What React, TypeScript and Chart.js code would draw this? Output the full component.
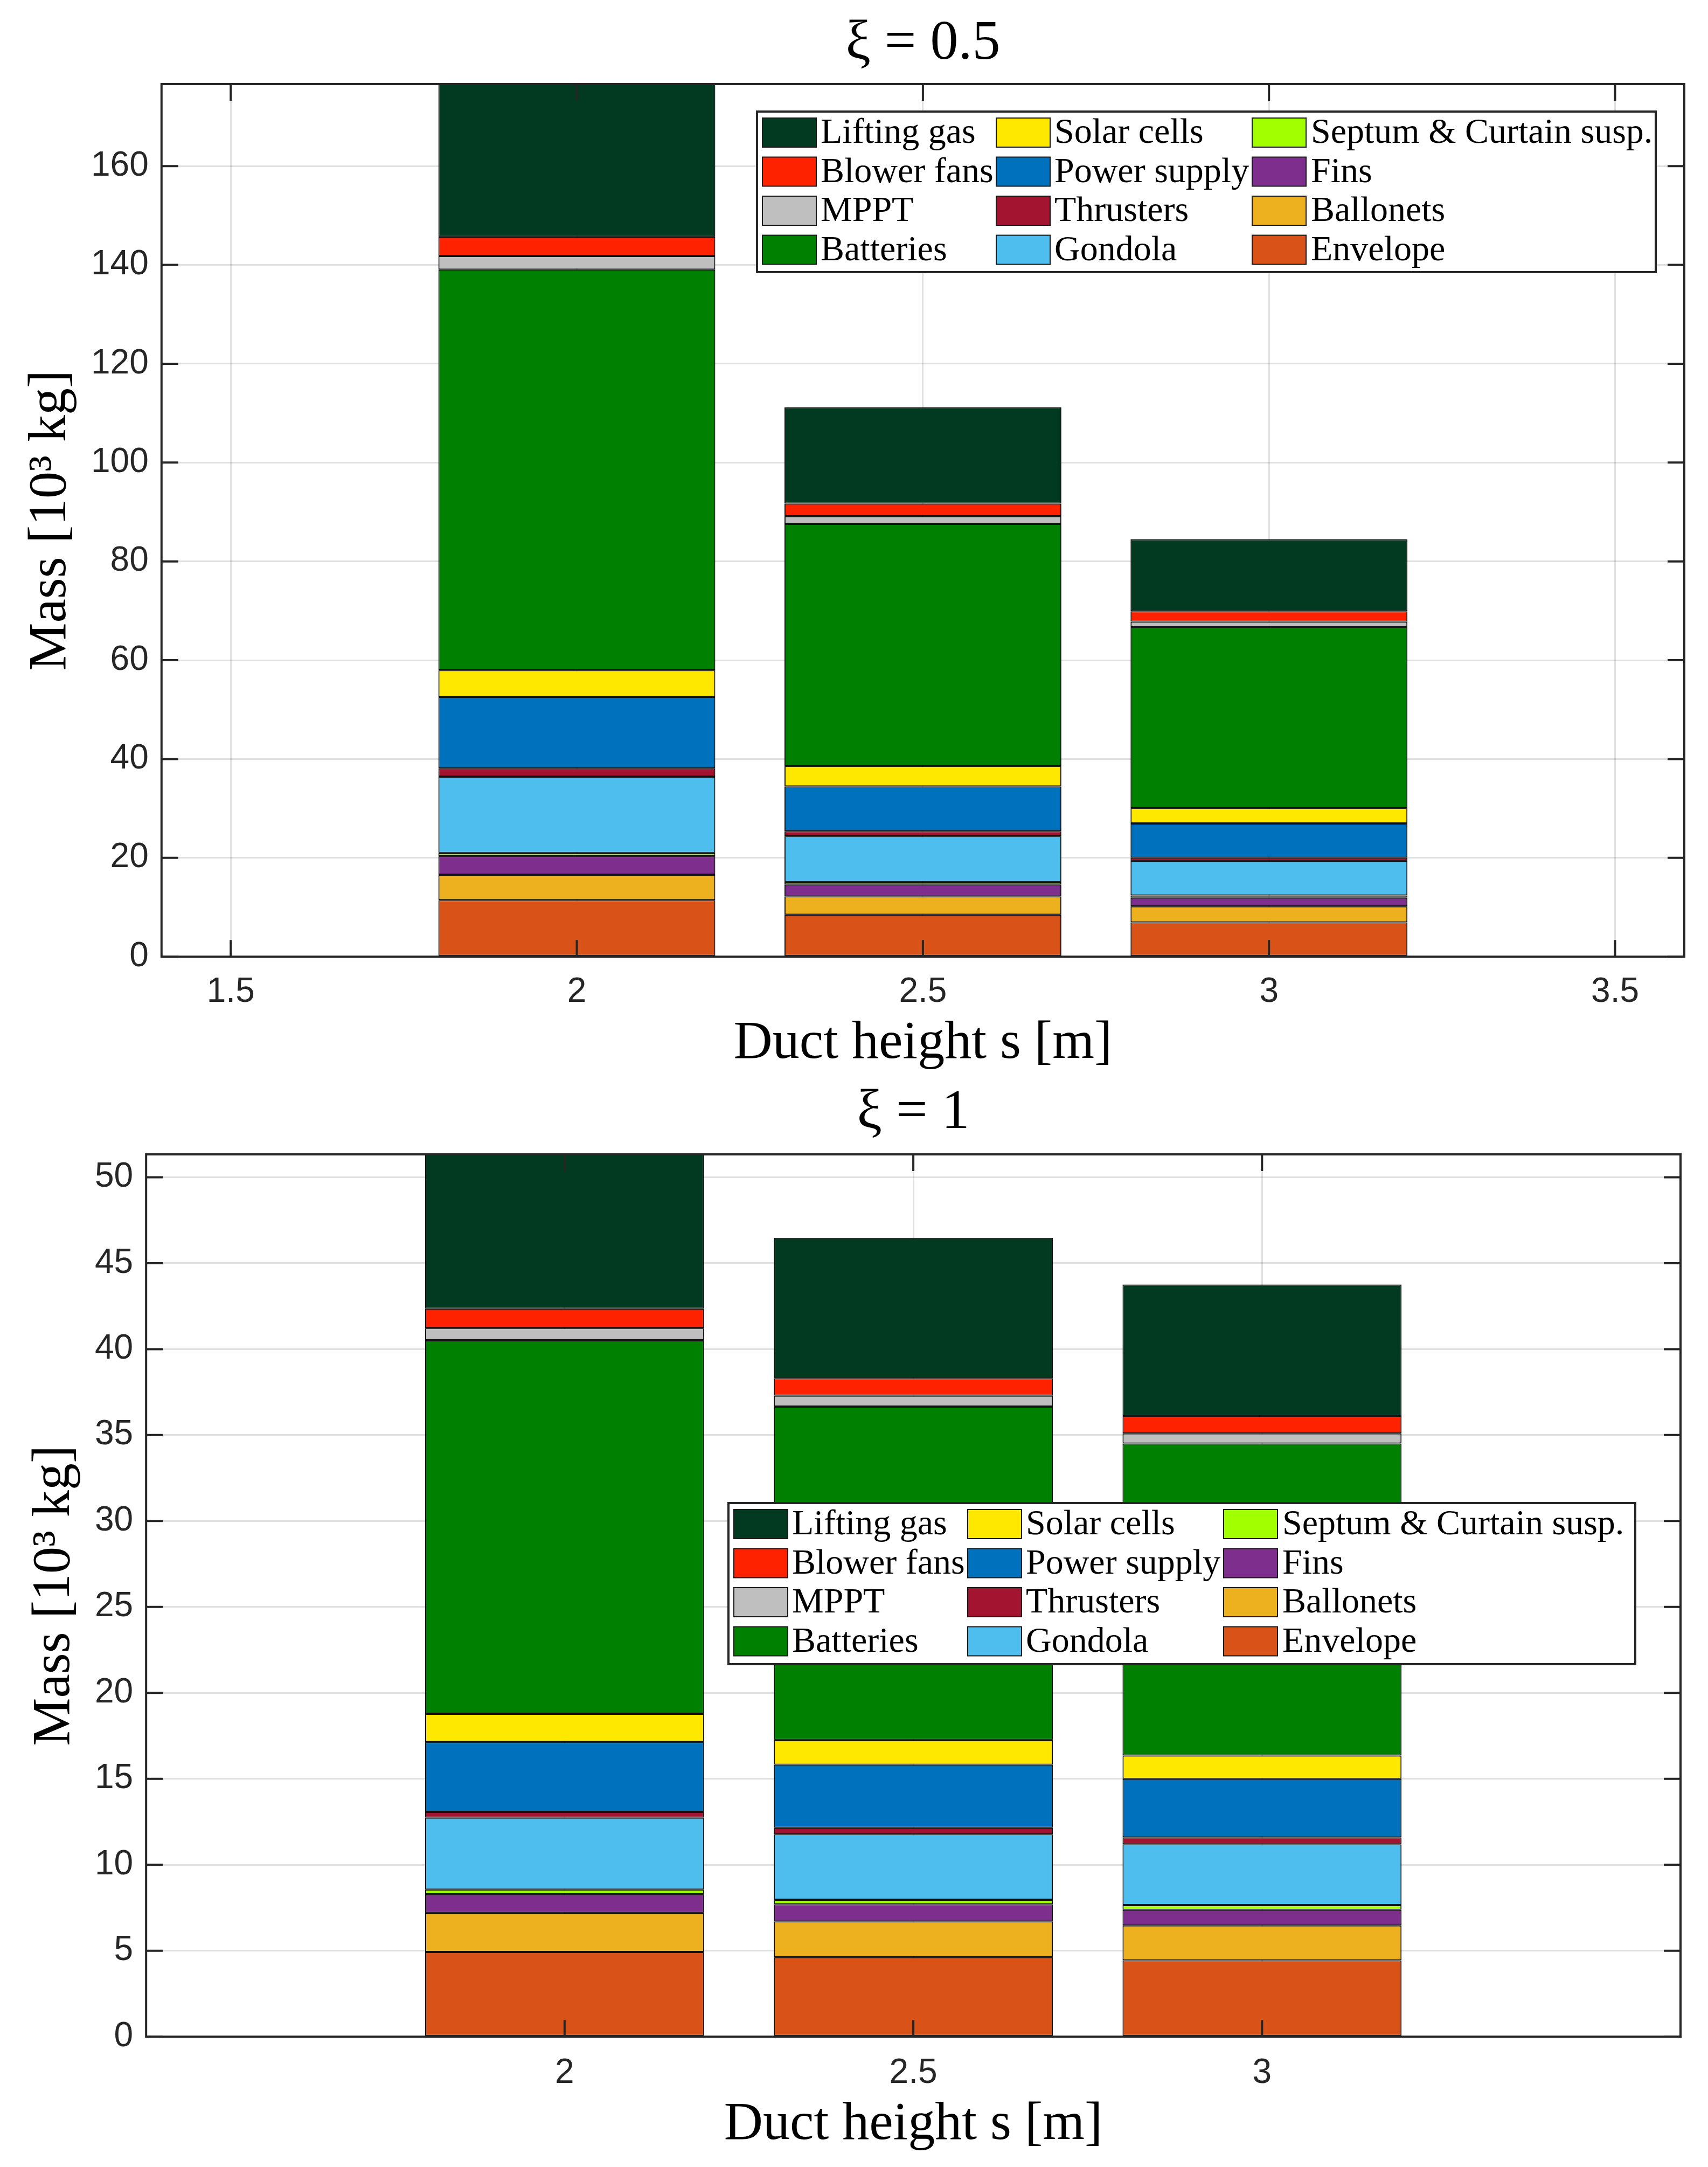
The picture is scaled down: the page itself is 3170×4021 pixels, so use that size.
import React, { useEffect, useRef } from 'react';
import { Chart, registerables } from 'chart.js';

Chart.register(...registerables);

// ---------- data ----------
const ductHeights = [2, 2.5, 3];
const xTicksTop = [1.5, 2, 2.5, 3, 3.5];
const xTicksBottom = [2, 2.5, 3];
const yTicksTop = [0, 20, 40, 60, 80, 100, 120, 140, 160];
const yTicksBottom = [0, 5, 10, 15, 20, 25, 30, 35, 40, 45, 50];
const xRange = [1.4, 3.6];
const yMaxTop = 176.6;
const yMaxBottom = 51.33;

// stacking order, bottom to top
const componentNames = [
  'Envelope',
  'Ballonets',
  'Fins',
  'Septum & Curtain susp.',
  'Gondola',
  'Thrusters',
  'Power supply',
  'Solar cells',
  'Batteries',
  'MPPT',
  'Blower fans',
  'Lifting gas',
];
const componentColors = [
  '#D95319',
  '#EDB120',
  '#7E2F8E',
  '#A2FF00',
  '#4DBEEE',
  '#A2142F',
  '#0072BD',
  '#FFE800',
  '#008000',
  '#BFBFBF',
  '#FF2200',
  '#013A20',
];

// xi = 0.5  (10^3 kg) at s = 2, 2.5, 3
const envelopeXi05 = [11.45, 8.5, 6.95];
const ballonetsXi05 = [5.15, 3.7, 3.25];
const finsXi05 = [3.8, 2.4, 1.75];
const septumXi05 = [0.6, 0.5, 0.45];
const gondolaXi05 = [15.45, 9.3, 7.0];
const thrustersXi05 = [1.65, 1.0, 0.65];
const powerXi05 = [14.5, 9.05, 6.9];
const solarXi05 = [5.4, 4.15, 3.15];
const batteriesXi05 = [81.05, 49.0, 36.6];
const mpptXi05 = [2.75, 1.55, 1.1];
const blowerXi05 = [3.9, 2.55, 2.1];
const liftingXi05 = [30.9, 19.5, 14.6];

// xi = 1  (10^3 kg) at s = 2, 2.5, 3
const envelopeXi1 = [4.93, 4.62, 4.44];
const ballonetsXi1 = [2.26, 2.09, 2.03];
const finsXi1 = [1.1, 0.99, 0.91];
const septumXi1 = [0.27, 0.27, 0.28];
const gondolaXi1 = [4.18, 3.81, 3.53];
const thrustersXi1 = [0.34, 0.37, 0.41];
const powerXi1 = [4.07, 3.67, 3.4];
const solarXi1 = [1.64, 1.44, 1.36];
const batteriesXi1 = [21.72, 19.4, 18.15];
const mpptXi1 = [0.72, 0.63, 0.59];
const blowerXi1 = [1.12, 1.02, 1.02];
const liftingXi1 = [8.98, 8.17, 7.64];

const seriesXi05 = [
  envelopeXi05, ballonetsXi05, finsXi05, septumXi05, gondolaXi05, thrustersXi05,
  powerXi05, solarXi05, batteriesXi05, mpptXi05, blowerXi05, liftingXi05,
];
const seriesXi1 = [
  envelopeXi1, ballonetsXi1, finsXi1, septumXi1, gondolaXi1, thrustersXi1,
  powerXi1, solarXi1, batteriesXi1, mpptXi1, blowerXi1, liftingXi1,
];

// ---------- styling ----------
const SERIF = '"Liberation Serif", "Times New Roman", serif';
const SANS = '"Liberation Sans", Arial, sans-serif';
const AXIS_COLOR = '#262626';
const GRID_COLOR = 'rgba(38,38,38,0.14)';

const matlabAxesPlugin = {
  id: 'matlabAxes',
  afterDraw(chart: any, _args: any, opts: any) {
    const { ctx, chartArea: a, scales } = chart;
    const tl = opts.tickLength ?? 31;
    ctx.save();
    ctx.strokeStyle = AXIS_COLOR;
    ctx.lineWidth = opts.lineWidth ?? 4;
    ctx.beginPath();
    scales.x.ticks.forEach((t: any) => {
      const px = scales.x.getPixelForValue(t.value);
      ctx.moveTo(px, a.bottom);
      ctx.lineTo(px, a.bottom - tl);
      ctx.moveTo(px, a.top);
      ctx.lineTo(px, a.top + tl);
    });
    scales.y.ticks.forEach((t: any) => {
      const py = scales.y.getPixelForValue(t.value);
      ctx.moveTo(a.left, py);
      ctx.lineTo(a.left + tl, py);
      ctx.moveTo(a.right, py);
      ctx.lineTo(a.right - tl, py);
    });
    ctx.stroke();
    ctx.strokeRect(a.left, a.top, a.right - a.left, a.bottom - a.top);

    // legend (3 columns x 4 rows, column-major, top of stack first)
    const lg = opts.legend;
    if (lg) {
      ctx.fillStyle = '#ffffff';
      ctx.fillRect(lg.x, lg.y, lg.w, lg.h);
      ctx.lineWidth = 4;
      ctx.strokeStyle = AXIS_COLOR;
      ctx.strokeRect(lg.x, lg.y, lg.w, lg.h);
      const items = chart.data.datasets.slice().reverse();
      const swatchX = [10, 444, 919];
      const textX = [118, 552, 1028];
      const rowTop = 39;
      const rowStep = 72.5;
      ctx.font = `66px ${SERIF}`;
      ctx.textBaseline = 'middle';
      ctx.textAlign = 'left';
      items.forEach((ds: any, i: number) => {
        const col = Math.floor(i / 4);
        const row = i % 4;
        const cy = lg.y + rowTop + row * rowStep;
        const sx = lg.x + swatchX[col];
        ctx.fillStyle = ds.backgroundColor;
        ctx.fillRect(sx, cy - 27, 100, 54);
        ctx.lineWidth = 2;
        ctx.strokeStyle = '#1a1a1a';
        ctx.strokeRect(sx, cy - 27, 100, 54);
        ctx.fillStyle = '#000000';
        ctx.fillText(ds.label, lg.x + textX[col], cy + 2);
      });
    }
    ctx.restore();
  },
};

function makeConfig(p: {
  title: string;
  series: number[][];
  xTicks: number[];
  yTicks: number[];
  yMax: number;
  padLeft: number;
  padRight: number;
  padBottom: number;
  titlePadTop: number;
  titlePadBottom: number;
  tickPadX: number;
  xTitlePadTop: number;
  legend: { x: number; y: number; w: number; h: number };
}) {
  return {
    type: 'bar' as const,
    data: {
      datasets: p.series.map((vals, k) => ({
        label: componentNames[k],
        backgroundColor: componentColors[k],
        borderColor: '#111111',
        borderWidth: 2,
        borderSkipped: false,
        data: ductHeights.map((x, i) => ({ x, y: vals[i] })),
      })),
    },
    options: {
      responsive: false,
      animation: false,
      devicePixelRatio: 1,
      layout: { padding: { left: p.padLeft, right: p.padRight, top: 0, bottom: p.padBottom } },
      datasets: { bar: { categoryPercentage: 1, barPercentage: 0.8 } },
      plugins: {
        legend: { display: false },
        tooltip: { enabled: false },
        title: {
          display: true,
          fullSize: false,
          text: p.title,
          color: '#000000',
          font: { family: SERIF, size: 104, weight: 'normal', lineHeight: 1 },
          padding: { top: p.titlePadTop, bottom: p.titlePadBottom },
        },
        matlabAxes: { tickLength: 31, lineWidth: 4, legend: p.legend },
      },
      scales: {
        x: {
          type: 'linear',
          stacked: true,
          offset: false,
          min: xRange[0],
          max: xRange[1],
          afterBuildTicks: (scale: any) => {
            scale.ticks = p.xTicks.map((v) => ({ value: v }));
          },
          ticks: {
            color: AXIS_COLOR,
            font: { family: SANS, size: 64, lineHeight: 1.2 },
            padding: p.tickPadX,
            maxRotation: 0,
            autoSkip: false,
            callback: (v: any) => String(v),
          },
          grid: { color: GRID_COLOR, lineWidth: 3, drawTicks: false, offset: false },
          border: { display: false },
          title: {
            display: true,
            text: 'Duct height s [m]',
            color: '#000000',
            font: { family: SERIF, size: 100, lineHeight: 1 },
            padding: { top: p.xTitlePadTop, bottom: 0 },
          },
        },
        y: {
          type: 'linear',
          stacked: true,
          min: 0,
          max: p.yMax,
          afterBuildTicks: (scale: any) => {
            scale.ticks = p.yTicks.map((v) => ({ value: v }));
          },
          ticks: {
            color: AXIS_COLOR,
            font: { family: SANS, size: 64, lineHeight: 1.2 },
            padding: 24,
            autoSkip: false,
            callback: (v: any) => String(v),
          },
          grid: { color: GRID_COLOR, lineWidth: 3, drawTicks: false, offset: false },
          border: { display: false },
          title: {
            display: true,
            text: 'Mass [10³ kg]',
            color: '#000000',
            font: { family: SERIF, size: 100, lineHeight: 1 },
            padding: { top: 22, bottom: 0 },
          },
        },
      },
    },
    plugins: [matlabAxesPlugin],
  };
}

function ChartPanel({ config, width, height }: { config: any; width: number; height: number }) {
  const ref = useRef<HTMLCanvasElement | null>(null);
  useEffect(() => {
    if (!ref.current) return;
    const chart = new Chart(ref.current, config);
    return () => chart.destroy();
  }, [config]);
  return (
    <canvas
      ref={ref}
      width={width}
      height={height}
      style={{ display: 'block', width: `${width}px`, height: `${height}px` }}
    />
  );
}

const topConfig = makeConfig({
  title: 'ξ = 0.5',
  series: seriesXi05,
  xTicks: xTicksTop,
  yTicks: yTicksTop,
  yMax: yMaxTop,
  padLeft: 23,
  padRight: 44,
  padBottom: 13,
  titlePadTop: 30,
  titlePadBottom: 22,
  tickPadX: 28,
  xTitlePadTop: -21,
  legend: { x: 1405, y: 207, w: 1668, h: 298 },
});

const bottomConfig = makeConfig({
  title: 'ξ = 1',
  series: seriesXi1,
  xTicks: xTicksBottom,
  yTicks: yTicksBottom,
  yMax: yMaxBottom,
  padLeft: 30,
  padRight: 51,
  padBottom: 28,
  titlePadTop: 14,
  titlePadBottom: 24,
  tickPadX: 30,
  xTitlePadTop: -23,
  legend: { x: 1352, y: 789, w: 1683, h: 299 },
});

export default function App() {
  return (
    <div
      style={{
        position: 'absolute',
        left: 0,
        top: 0,
        width: 3170,
        height: 4021,
        background: '#ffffff',
        overflow: 'hidden',
      }}
    >
      <ChartPanel config={topConfig} width={3170} height={2000} />
      <ChartPanel config={bottomConfig} width={3170} height={2021} />
    </div>
  );
}
